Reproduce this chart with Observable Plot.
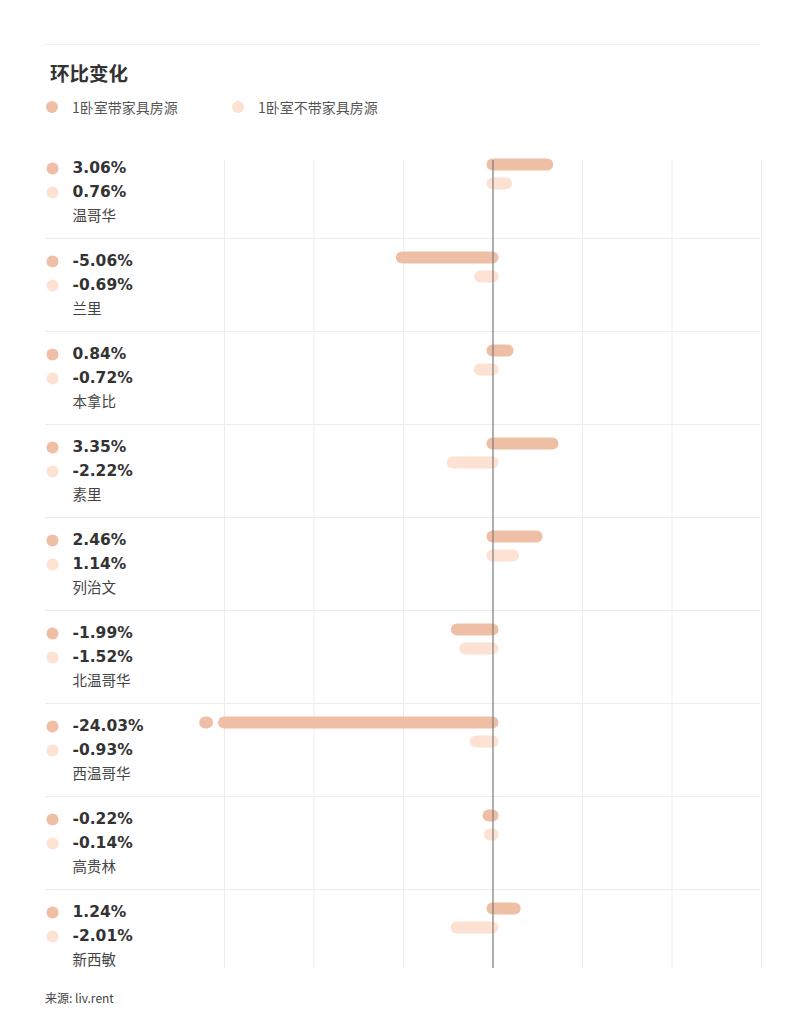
<!DOCTYPE html>
<html>
<head>
<meta charset="utf-8">
<script src="https://cdn.jsdelivr.net/npm/d3@7"></script>
<script src="https://cdn.jsdelivr.net/npm/@observablehq/plot@0.6"></script>
<style>
  html, body { margin: 0; padding: 0; background: #fff; }
  body { width: 805px; height: 1024px; position: relative; font-family: "Noto Sans CJK SC", "Noto Sans", sans-serif; }
  #rule { position: absolute; left: 45px; top: 44px; width: 715px; height: 1px; background: #f0f0f0; }
  #title { position: absolute; left: 50px; top: 60px; font-size: 19.5px; font-weight: 700; color: #333; line-height: 26px; }
  #legend { position: absolute; left: 45px; top: 97px; font-size: 14px; color: #555; line-height: 20px; }
  .item { position: absolute; white-space: nowrap; }
  .sw { position: absolute; width: 12px; height: 12px; border-radius: 50%; top: 4px; }
  #chart { position: absolute; left: 0; top: 140px; }
  #caption { position: absolute; left: 45px; top: 990px; font-size: 12px; color: #444; line-height: 16px; }
</style>
</head>
<body>
<div id="rule"></div>
<div id="title">环比变化</div>
<div id="legend"></div>
<div id="chart"></div>
<div id="caption">来源: liv.rent</div>
<script>
const cities = ["温哥华", "兰里", "本拿比", "素里", "列治文", "北温哥华", "西温哥华", "高贵林", "新西敏"];
const seriesNames = ["1卧室带家具房源", "1卧室不带家具房源"];
const furnished = [3.06, -5.06, 0.84, 3.35, 2.46, -1.99, -24.03, -0.22, 1.24];
const unfurnished = [0.76, -0.69, -0.72, -2.22, 1.14, -1.52, -0.93, -0.14, -2.01];
const xTicks = [-15, -10, -5, 0, 5, 10, 15];
const colors = ["#efbfa5", "#fde1d2"];

const xMin = -15, xMax = 15;
const rowH = 93;
// offsets inside a row (row units)
const barOff = [19 / rowH, 38 / rowH];
const textOff = [23 / rowH, 47 / rowH, 71 / rowH];

const rows = [];
cities.forEach((c, i) => {
  [furnished[i], unfurnished[i]].forEach((v, s) => {
    rows.push({ city: c, row: i, series: s, value: v });
  });
});
const cityRows = cities.map((c, i) => ({ city: c, row: i }));
const separators = d3.range(1, cities.length);
const overflow = rows.filter(d => d.value < xMin);

// legend
const legend = document.getElementById("legend");
seriesNames.forEach((n, s) => {
  const it = document.createElement("div");
  it.className = "item";
  it.style.left = (s * 186) + "px";
  it.style.top = "0px";
  it.innerHTML = `<span class="sw" style="left:1px;background:${colors[s]}"></span><span style="margin-left:27px">${n}</span>`;
  legend.appendChild(it);
});

const numFont = "'DejaVu Sans', sans-serif";
const cjkFont = "'Noto Sans CJK SC', sans-serif";

const chart = Plot.plot({
  width: 805,
  height: 850,
  marginLeft: 224,
  marginRight: 44,
  marginTop: 0,
  marginBottom: 0,
  x: { domain: [xMin, xMax], axis: null },
  y: { domain: [0, cities.length], range: [5, 5 + rowH * cities.length], axis: null },
  marks: [
    Plot.ruleX(xTicks.filter(t => t !== 0), { y1: 15 / rowH, y2: 823 / rowH, stroke: "#ececec", strokeWidth: 1 }),
    Plot.ruleY(separators, { stroke: "#ececec", strokeWidth: 1, insetLeft: -179, insetRight: 1 }),
    Plot.ruleY(rows, {
      y: d => d.row + barOff[d.series],
      x1: 0,
      x2: d => Math.max(d.value, xMin),
      stroke: d => colors[d.series],
      strokeWidth: 12,
      strokeLinecap: "round"
    }),
    Plot.ruleY(overflow, {
      y: d => d.row + barOff[d.series],
      x1: xMin - 1.05,
      x2: xMin - 0.95,
      stroke: d => colors[d.series],
      strokeWidth: 12,
      strokeLinecap: "round"
    }),
    Plot.ruleX([0], { y1: 15 / rowH, y2: 823 / rowH, stroke: "#7a7a7a", strokeWidth: 1.2 }),
    Plot.dot(rows, {
      frameAnchor: "left",
      y: d => d.row + textOff[d.series],
      dx: -172,
      r: 6,
      fill: d => colors[d.series],
      stroke: "none"
    }),
    Plot.text(rows, {
      frameAnchor: "left",
      y: d => d.row + textOff[d.series],
      dx: -152,
      text: d => d.value.toFixed(2) + "%",
      textAnchor: "start",
      fontSize: 15.5,
      fontWeight: 700,
      fontFamily: numFont,
      fill: "#333"
    }),
    Plot.text(cityRows, {
      frameAnchor: "left",
      y: d => d.row + textOff[2],
      dx: -152,
      text: "city",
      textAnchor: "start",
      fontSize: 14.5,
      fontFamily: cjkFont,
      fill: "#444"
    })
  ]
});
document.getElementById("chart").appendChild(chart);
</script>
</body>
</html>
